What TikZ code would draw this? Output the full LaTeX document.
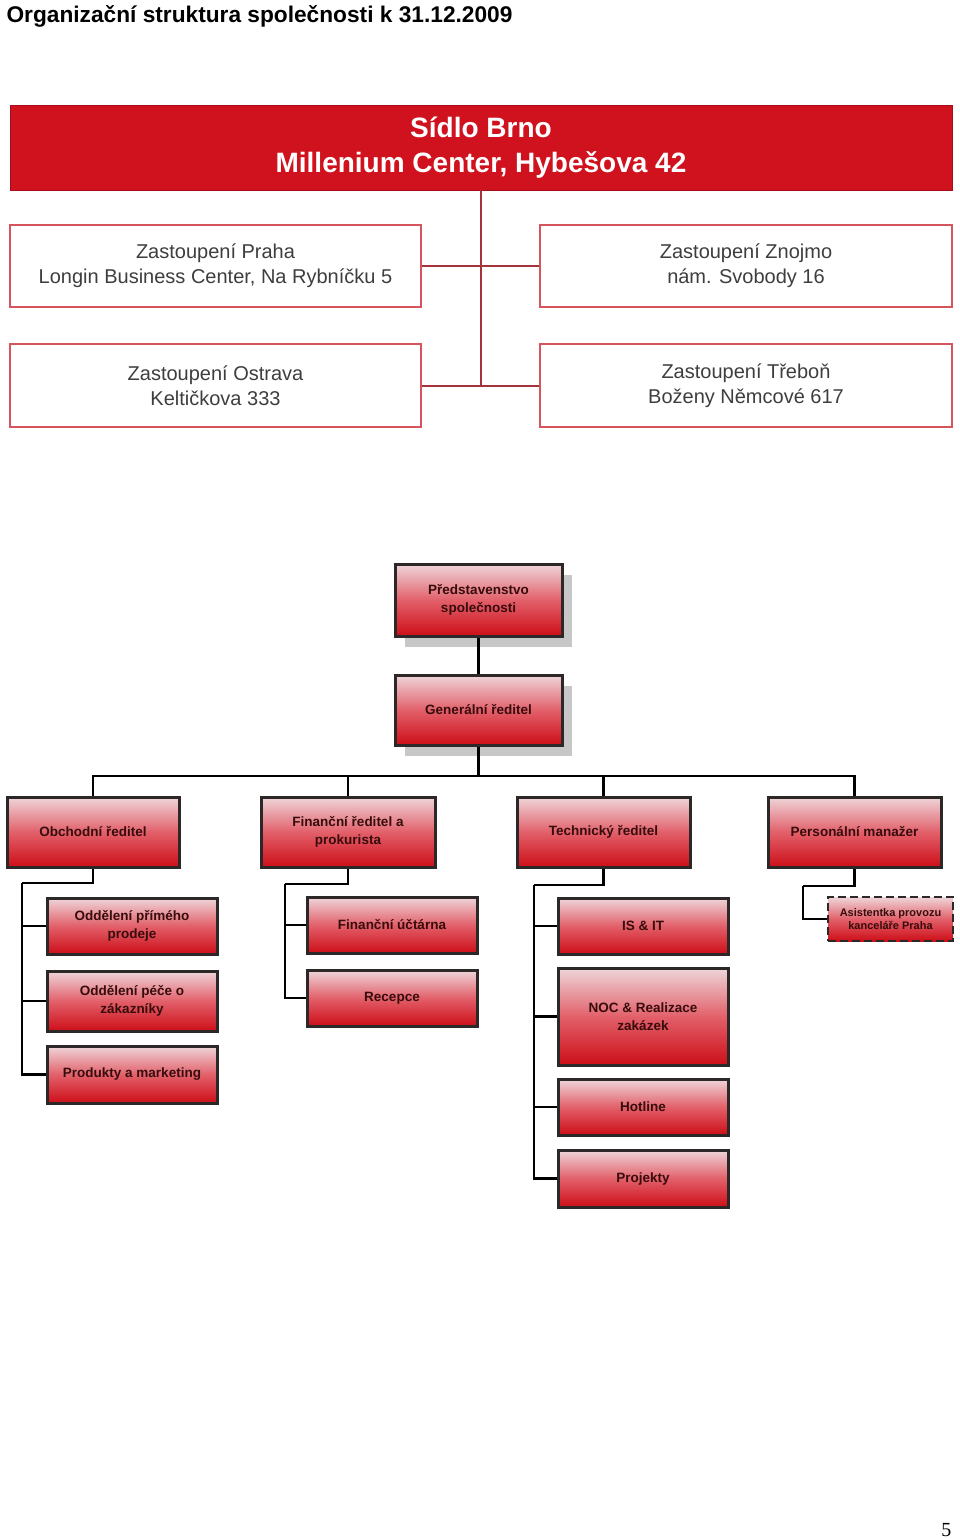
\documentclass[tikz,border=0pt]{standalone}
\usepackage{fontspec}
\setmainfont{Liberation Sans}
\newfontfamily\numfont{Liberation Serif}
\usetikzlibrary{shadows}
\definecolor{brnored}{RGB}{208,18,30}
\definecolor{officeline}{RGB}{214,84,94}
\definecolor{branchline}{RGB}{165,52,58}
\definecolor{officetext}{RGB}{62,62,62}
\definecolor{unittop}{RGB}{238,214,218}
\definecolor{unitmid}{RGB}{226,96,106}
\definecolor{unitbot}{RGB}{205,14,24}
\definecolor{unitline}{RGB}{45,40,40}
\definecolor{unittext}{RGB}{55,12,12}

\begin{document}
\begin{tikzpicture}[x=1pt, y=-1pt,
  office/.style={draw=officeline, line width=1.5pt, fill=white, text=officetext, align=center, inner sep=0pt, font=\fontsize{20}{25}\selectfont},
  unit/.style={draw=unitline, line width=3pt, top color=unittop, bottom color=unitbot, middle color=unitmid, text=unittext, align=center, inner sep=0pt, font=\bfseries\fontsize{13.5}{18}\selectfont},
  boardshadow/.style={drop shadow={shadow xshift=10pt, shadow yshift=-11pt, fill=black!22, opacity=1}},
  link/.style={draw=black, line width=2.5pt},
  branchlink/.style={draw=branchline, line width=2pt}]
  \useasboundingbox[fill=white] (0,0) rectangle (960,1539);
  \node[anchor=base west, font=\bfseries\fontsize{22.7}{23}\selectfont] (title) at (3,22) {Organizační struktura společnosti k 31.12.2009};
  \node[anchor=base east, font=\numfont\fontsize{20}{20}\selectfont] (pagenum) at (955,1536) {5};

  \node[fill=brnored, draw=brnored!80!black, text=white, align=center, inner sep=0pt, minimum width=942pt, minimum height=85pt, font=\bfseries\fontsize{28}{35}\selectfont] (hq) at (481,147.5) {Sídlo Brno\\Millenium Center, Hybešova 42};
  \node[office, minimum width=411pt, minimum height=82pt] (praha) at (215.5,266) {Zastoupení Praha\\Longin Business Center, Na Rybníčku 5};
  \node[office, minimum width=412pt, minimum height=82pt] (znojmo) at (746,266) {Zastoupení Znojmo\\nám. Svobody 16};
  \node[office, minimum width=411pt, minimum height=83pt] (ostrava) at (215.5,385.5) {Zastoupení Ostrava\\Keltičkova 333};
  \node[office, minimum width=412pt, minimum height=83pt] (trebon) at (746,385.5) {Zastoupení Třeboň\\Boženy Němcové 617};
  \draw[branchlink] (hq.south) -- (hq.south |- ostrava.east);
  \draw[branchlink] (praha.east) -- (znojmo.west);
  \draw[branchlink] (ostrava.east) -- (trebon.west);

  \node[unit, boardshadow, minimum width=167pt, minimum height=72pt] (board) at (478.5,600) {Představenstvo\\společnosti};
  \node[unit, boardshadow, minimum width=167pt, minimum height=70pt] (ceo) at (478.5,710) {Generální ředitel};
  \node[unit, minimum width=172pt, minimum height=70pt] (obch) at (93,832) {Obchodní ředitel};
  \node[unit, minimum width=174pt, minimum height=70pt] (fin) at (348,832) {Finanční ředitel a\\prokurista};
  \node[unit, minimum width=173pt, minimum height=70pt] (tech) at (603.5,832) {Technický ředitel};
  \node[unit, minimum width=173pt, minimum height=70pt] (pers) at (854.5,832) {Personální manažer};

  \node[unit, minimum width=170pt, minimum height=56pt] (prodej) at (132,926) {Oddělení přímého\\prodeje};
  \node[unit, minimum width=170pt, minimum height=60pt] (pece) at (132,1001) {Oddělení péče o\\zákazníky};
  \node[unit, minimum width=170pt, minimum height=57pt] (marketing) at (132,1074.5) {Produkty a marketing};
  \node[unit, minimum width=170pt, minimum height=56pt] (uctarna) at (392,925) {Finanční účtárna};
  \node[unit, minimum width=170pt, minimum height=56pt] (recepce) at (392,998) {Recepce};
  \node[unit, minimum width=170pt, minimum height=56pt] (isit) at (643,926) {IS \& IT};
  \node[unit, minimum width=170pt, minimum height=97pt] (noc) at (643,1016.5) {NOC \& Realizace\\zakázek};
  \node[unit, minimum width=170pt, minimum height=56pt] (hotline) at (643,1107) {Hotline};
  \node[unit, minimum width=170pt, minimum height=57pt] (projekty) at (643,1178.5) {Projekty};
  \node[unit, dash pattern=on 8pt off 4pt, line width=2pt, minimum width=125pt, minimum height=44pt, font=\bfseries\fontsize{11}{13}\selectfont] (asist) at (890.5,919) {Asistentka provozu\\kanceláře Praha};

  \draw[link] (board.south) -- (ceo.north);
  \coordinate (bus) at (478.5,776);
  \draw[link] (ceo.south) -- (bus);
  \draw[link] (obch.north) |- (bus) -| (pers.north);
  \draw[link] (fin.north) -- (fin.north |- bus);
  \draw[link] (tech.north) -- (tech.north |- bus);

  \coordinate (obchrail) at (22,883);
  \coordinate (finrail) at (285,884);
  \coordinate (techrail) at (534,885);
  \coordinate (persrail) at (803,886);
  \draw[link] (obch.south) |- (obchrail);
  \draw[link] (fin.south) |- (finrail);
  \draw[link] (tech.south) |- (techrail);
  \draw[link] (pers.south) |- (persrail);
  \foreach \child in {prodej,pece,marketing}
    \draw[link] (obchrail) |- (\child.west);
  \foreach \child in {uctarna,recepce}
    \draw[link] (finrail) |- (\child.west);
  \foreach \child in {isit,noc,hotline,projekty}
    \draw[link] (techrail) |- (\child.west);
  \draw[link] (persrail) |- (asist.west);
\end{tikzpicture}
\end{document}
